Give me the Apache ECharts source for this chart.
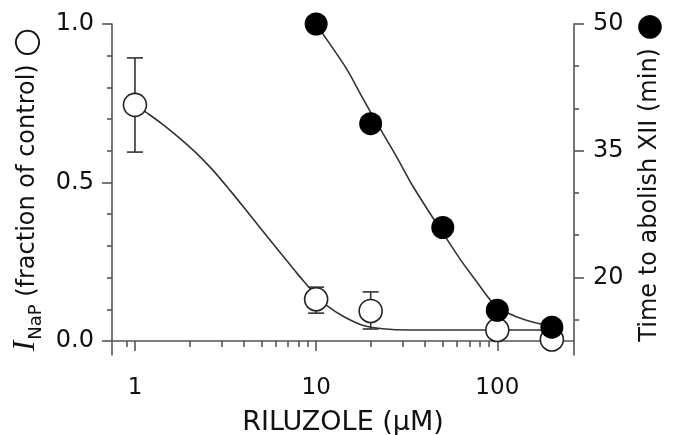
<!DOCTYPE html>
<html><head><meta charset="utf-8">
<script src="https://cdn.jsdelivr.net/npm/echarts@6/dist/echarts.min.js"></script>
<style>html,body{margin:0;padding:0;background:#fff}#c{width:676px;height:435px}</style>
</head><body><div id="c"></div>
<script>
// ---- data ----
const concOpen = [1, 10, 20, 100, 200];
const inapMean = [0.745, 0.132, 0.095, 0.035, 0.005];
const inapErrLow = [0.596, 0.088, 0.038, null, null];
const inapErrHigh = [0.893, 0.170, 0.155, null, null];

const concTime = [10, 20, 50, 100, 200];
const timeMin = [50, 38.2, 25.9, 16.1, 14.1];

const fitOpenX = [1, 1.21, 1.464, 1.77, 2.196, 2.691, 3.338, 4.141, 5.073, 6.293, 7.808, 9.21, 10, 11.57, 14.0, 18.03, 23.25, 32.7, 50, 100, 200];
const fitOpenY = [0.745, 0.713, 0.678, 0.639, 0.591, 0.539, 0.476, 0.410, 0.347, 0.281, 0.215, 0.167, 0.142, 0.110, 0.079, 0.050, 0.039, 0.035, 0.035, 0.035, 0.035];

const fitTimeX = [10, 11.79, 14.73, 18.04, 22.38, 27.77, 34.01, 42.21, 52.36, 64.15, 76.62, 93.88, 112.1, 144.5, 200];
const fitTimeY = [50, 47.76, 44.69, 41.26, 37.72, 34.29, 30.87, 27.68, 24.61, 21.77, 19.53, 17.05, 15.87, 14.92, 14.21];

const xMajorTicks = [1, 10, 100, 200];
const xTickLabels = [1, 10, 100];
const xMinorTicks = [0.9, 2, 3, 4, 5, 6, 7, 8, 9, 20, 30, 40, 50, 60, 70, 80, 90];
const leftMajorTicks = [0, 0.5, 1.0];
const leftMinorTicks = [0.1, 0.2, 0.3, 0.4, 0.6, 0.7, 0.8, 0.9];
const rightMajorTicks = [20, 35, 50];
const rightMinorTicks = [15, 25, 30, 40, 45];

// ---- chart ----
const FONT = 'DejaVu Sans';
const AX = '#555';
const TXT = '#111';
const X_MIN = 0.747, X_MAX = 265;
const L_MIN = -0.044, L_MAX = 1.0;
const R_MIN = 10.8, R_MAX = 50;

const chart = echarts.init(document.getElementById('c'), null, {renderer: 'canvas'});

function zip(a, b) { return a.map((v, i) => [v, b[i]]); }

const axisLineStyle = {color: AX, width: 1.6};

const option = {
  animation: false,
  backgroundColor: '#fff',
  grid: {left: 112, right: 102, top: 24, bottom: 80, containLabel: false, outerBoundsMode: 'none'},
  xAxis: [
    {
      type: 'log', min: X_MIN, max: X_MAX, logBase: 10,
      axisLine: {show: true, lineStyle: axisLineStyle},
      axisTick: {show: true, length: 10, customValues: xMajorTicks, lineStyle: axisLineStyle},
      axisLabel: {show: true, customValues: xTickLabels, margin: 22, fontSize: 23, fontFamily: FONT, color: TXT},
      splitLine: {show: false}, minorTick: {show: false}, minorSplitLine: {show: false},
      name: 'RILUZOLE (µM)', nameLocation: 'middle', nameGap: 54,
      nameTextStyle: {fontSize: 27, fontFamily: FONT, color: TXT}
    },
    {
      type: 'log', min: X_MIN, max: X_MAX, logBase: 10, position: 'bottom',
      axisLine: {show: false},
      axisTick: {show: true, length: 6, customValues: xMinorTicks, lineStyle: axisLineStyle},
      axisLabel: {show: false}, splitLine: {show: false}
    }
  ],
  yAxis: [
    {
      type: 'value', min: L_MIN, max: L_MAX, position: 'left',
      axisLine: {show: true, lineStyle: axisLineStyle},
      axisTick: {show: true, length: 10, customValues: leftMajorTicks, lineStyle: axisLineStyle},
      axisLabel: {show: true, customValues: leftMajorTicks, margin: 18, fontSize: 24, fontFamily: FONT, color: TXT,
        formatter: v => Number(v).toFixed(1)},
      splitLine: {show: false},
      name: '{ii|I}{sub|NaP}{t| (fraction of control) }{c|○}',
      nameLocation: 'middle', nameRotate: 90, nameGap: 62,
      nameTextStyle: {
        color: TXT, fontFamily: FONT, fontSize: 24,
        rich: {
          ii: {fontFamily: 'Liberation Serif', fontStyle: 'italic', fontSize: 31, color: TXT, verticalAlign: 'bottom', padding: [0, 1, 4, 0]},
          sub: {fontFamily: FONT, fontSize: 18, color: TXT, verticalAlign: 'bottom'},
          t: {fontFamily: FONT, fontSize: 24, color: TXT, verticalAlign: 'bottom', padding: [0, 0, 5, 0]},
          c: {fontFamily: FONT, fontSize: 33, color: TXT, verticalAlign: 'bottom', padding: [0, 0, 1, 0]}
        }
      }
    },
    {
      type: 'value', min: L_MIN, max: L_MAX, position: 'left',
      axisLine: {show: false},
      axisTick: {show: true, length: 5, customValues: leftMinorTicks, lineStyle: axisLineStyle},
      axisLabel: {show: false}, splitLine: {show: false}
    },
    {
      type: 'value', min: R_MIN, max: R_MAX, position: 'right',
      axisLine: {show: true, lineStyle: axisLineStyle},
      axisTick: {show: true, length: 10, customValues: rightMajorTicks, lineStyle: axisLineStyle},
      axisLabel: {show: true, customValues: rightMajorTicks, margin: 19, fontSize: 24, fontFamily: FONT, color: TXT},
      splitLine: {show: false},
      name: '{t|Time to abolish XII (min) }{c|●}',
      nameLocation: 'middle', nameRotate: 90, nameGap: 58,
      nameTextStyle: {
        color: TXT, fontFamily: FONT, fontSize: 24,
        rich: {
          t: {fontFamily: FONT, fontSize: 24, color: TXT, padding: [0, 0, 0, 24]},
          c: {fontFamily: FONT, fontSize: 31, color: '#000'}
        }
      }
    },
    {
      type: 'value', min: R_MIN, max: R_MAX, position: 'right',
      axisLine: {show: false},
      axisTick: {show: true, length: 5, customValues: rightMinorTicks, lineStyle: axisLineStyle},
      axisLabel: {show: false}, splitLine: {show: false}
    }
  ],
  series: [
    {
      type: 'line', name: 'fitINaP', xAxisIndex: 0, yAxisIndex: 0,
      data: zip(fitOpenX, fitOpenY), showSymbol: false, symbol: 'none', smooth: 0.3,
      lineStyle: {color: '#333', width: 1.6}, z: 2
    },
    {
      type: 'line', name: 'fitTime', xAxisIndex: 0, yAxisIndex: 2,
      data: zip(fitTimeX, fitTimeY), showSymbol: false, symbol: 'none', smooth: 0.3,
      lineStyle: {color: '#333', width: 1.6}, z: 2
    },
    {
      type: 'custom', name: 'errorbars', xAxisIndex: 0, yAxisIndex: 0, z: 3,
      data: concOpen.map((x, i) => [x, inapErrLow[i], inapErrHigh[i]]).filter(d => d[1] != null),
      renderItem: function (params, api) {
        const x = api.value(0);
        const lo = api.coord([x, api.value(1)]);
        const hi = api.coord([x, api.value(2)]);
        const hw = 8;
        const st = {stroke: '#333', lineWidth: 1.6};
        return {
          type: 'group',
          children: [
            {type: 'line', shape: {x1: lo[0], y1: lo[1], x2: hi[0], y2: hi[1]}, style: st},
            {type: 'line', shape: {x1: lo[0] - hw, y1: lo[1], x2: lo[0] + hw, y2: lo[1]}, style: st},
            {type: 'line', shape: {x1: hi[0] - hw, y1: hi[1], x2: hi[0] + hw, y2: hi[1]}, style: st}
          ]
        };
      }
    },
    {
      type: 'scatter', name: 'INaP', xAxisIndex: 0, yAxisIndex: 0, z: 4,
      data: zip(concOpen, inapMean), symbol: 'circle', symbolSize: 23,
      itemStyle: {color: '#fff', borderColor: '#222', borderWidth: 1.6, opacity: 1}
    },
    {
      type: 'scatter', name: 'Time', xAxisIndex: 0, yAxisIndex: 2, z: 5,
      data: zip(concTime, timeMin), symbol: 'circle', symbolSize: 23,
      itemStyle: {color: '#000', opacity: 1}
    }
  ]
};
chart.setOption(option);
</script>
</body></html>
